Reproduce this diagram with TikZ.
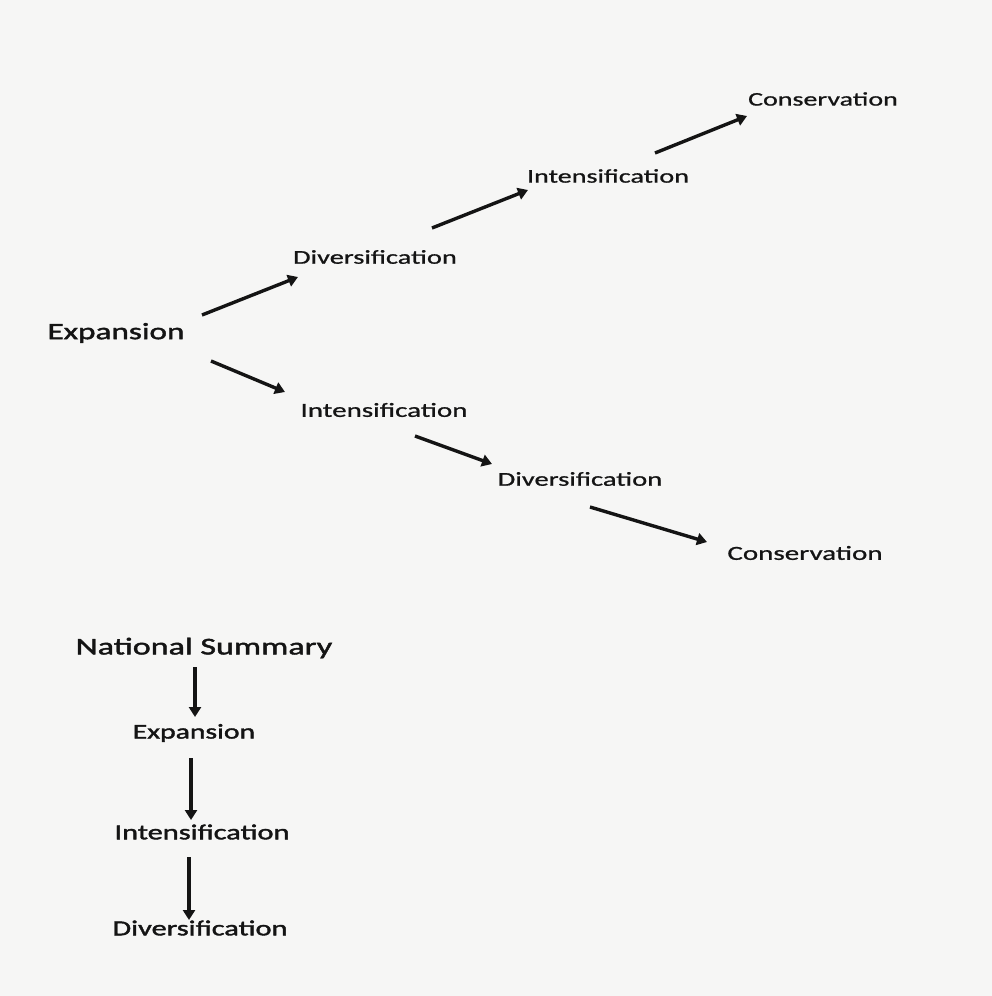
\documentclass[tikz,border=0pt]{standalone}
\usepackage{fontspec}
\setmainfont{Carlito}[FakeStretch=1.45,FakeBold=0.9]
\newfontfamily\heavy{Carlito}[FakeStretch=1.42,FakeBold=1.8]
\usetikzlibrary{arrows.meta}
\definecolor{paper}{RGB}{246,246,245}
\definecolor{ink}{RGB}{20,20,20}
\tikzset{
  lbl/.style={inner sep=0pt, text=ink, anchor=center},
  arr/.style={draw=ink, line width=3.4pt, -{Triangle[length=10pt,width=12pt]}},
}
\newcommand{\fsz}[1]{\fontsize{#1}{#1}\selectfont}
\begin{document}
\begin{tikzpicture}[x=1pt,y=-1pt]
\fill[paper] (0,0) rectangle (992,996);
\useasboundingbox (0,0) rectangle (992,996);
% branching diagram
\node[lbl,font=\heavy\fsz{23.4}] (exp)  at (116,333) {Expansion};
\node[lbl,font=\fsz{19.6}] (div1) at (375,257) {Diversification};
\node[lbl,font=\fsz{19.4}] (int1) at (608,176) {Intensification};
\node[lbl,font=\fsz{19.3}] (con1) at (823,99)  {Conservation};
\node[lbl,font=\fsz{20.0}] (int2) at (384,410) {Intensification};
\node[lbl,font=\fsz{19.7}] (div2) at (580,479) {Diversification};
\node[lbl,font=\fsz{20.0}] (con2) at (805,553) {Conservation};
% national summary
\node[lbl,font=\heavy\fsz{24.0}] (ns)   at (204,648) {National Summary};
\node[lbl,font=\heavy\fsz{20.9}] (exp3) at (194,733) {Expansion};
\node[lbl,font=\heavy\fsz{21.4}] (int3) at (202,832) {Intensification};
\node[lbl,font=\heavy\fsz{21.4}] (div3) at (200,928) {Diversification};
% arrows
\draw[arr] ([shift={(86pt,18pt)}]exp.center) -- ([shift={(-77pt,-20pt)}]div1.center);
\draw[arr] ([shift={(95pt,-28pt)}]exp.center) -- ([shift={(-99pt,18pt)}]int2.center);
\draw[arr] ([shift={(57pt,29pt)}]div1.center) -- ([shift={(-80pt,-14pt)}]int1.center);
\draw[arr] ([shift={(47pt,23pt)}]int1.center) -- ([shift={(-76pt,-17pt)}]con1.center);
\draw[arr] ([shift={(31pt,-26pt)}]int2.center) -- ([shift={(-88pt,15pt)}]div2.center);
\draw[arr] ([shift={(10pt,-28pt)}]div2.center) -- ([shift={(-98pt,11pt)}]con2.center);
\draw[arr] ([shift={(-9pt,-19pt)}]ns.center) -- ([shift={(1pt,16pt)}]exp3.center);
\draw[arr] ([shift={(-3pt,-25pt)}]exp3.center) -- ([shift={(-11pt,12pt)}]int3.center);
\draw[arr] ([shift={(-13pt,-25pt)}]int3.center) -- ([shift={(-11pt,8pt)}]div3.center);
\end{tikzpicture}
\end{document}
